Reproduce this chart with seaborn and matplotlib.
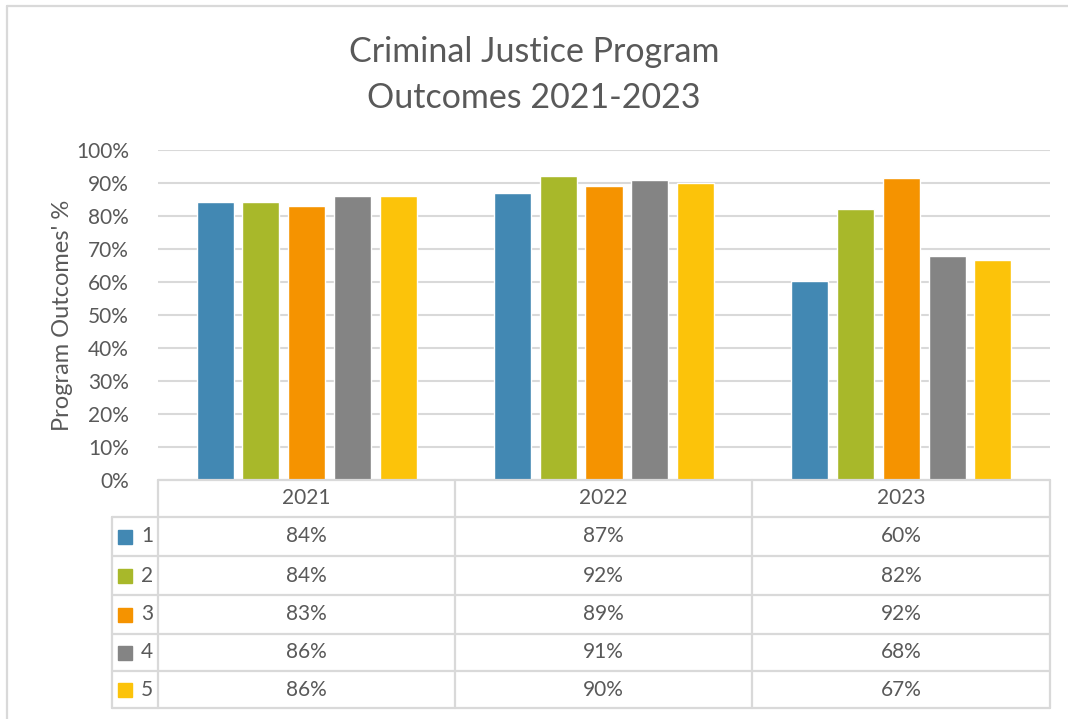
import pandas as pd
import numpy as np
import matplotlib.pyplot as plt
import seaborn as sns
from matplotlib.lines import Line2D
from matplotlib.patches import Rectangle
from matplotlib.ticker import PercentFormatter

years = ['2021', '2022', '2023']
series = ['1', '2', '3', '4', '5']
s1 = [84.2, 87.0, 60.3]
s2 = [84.2, 92.0, 82.1]
s3 = [83.0, 89.0, 91.6]
s4 = [86.0, 91.0, 67.9]
s5 = [86.0, 90.0, 66.7]
colors = ['#4288B3', '#A8B82A', '#F59300', '#848484', '#FCC30A']

sns.set_theme(style='white')
plt.rcParams['font.family'] = ['Lato', 'DejaVu Sans']
txt = '#595959'
grid = '#d9d9d9'

df = pd.DataFrame({'year': years * 5,
                   'series': np.repeat(series, 3),
                   'value': s1 + s2 + s3 + s4 + s5})

W, H = 1068, 719
fig = plt.figure(figsize=(W / 100, H / 100), dpi=100)

def fx(x):
    return x / W

def fy(y):
    return 1 - y / H

# plot area in pixel coords
x0, x1, ytop, ybot = 158, 1050, 150, 480
ax = fig.add_axes([fx(x0), fy(ybot), fx(x1) - fx(x0), fy(ytop) - fy(ybot)])
sns.barplot(data=df, x='year', y='value', hue='series', palette=colors,
            width=0.77, gap=0.19, ax=ax, legend=False, saturation=1)
ax.set_ylim(0, 100)
ax.set_xlim(-0.5, 2.5)
ax.set_yticks(range(0, 101, 10))
ax.yaxis.set_major_formatter(PercentFormatter(decimals=0))
ax.tick_params(axis='y', labelsize=15, labelcolor=txt, length=0, pad=21)
ax.set_xticks([])
ax.set_xlabel('')
ax.set_ylabel("Program Outcomes' %", fontsize=17, color=txt, labelpad=2)
ax.yaxis.grid(True, color=grid, linewidth=1.5)
ax.set_axisbelow(True)
for sp in ax.spines.values():
    sp.set_visible(False)

fig.text(0.5, fy(52), 'Criminal Justice Program', ha='center', va='center',
         fontsize=24.5, color=txt)
fig.text(0.5, fy(98), 'Outcomes 2021-2023', ha='center', va='center',
         fontsize=24.5, color=txt)

# data table
cols = [158, 455, 752, 1050]
rows = [480, 517, 556, 595, 634, 671, 708]
leg_x = 112

def hline(xa, xb, y):
    fig.add_artist(Line2D([fx(xa), fx(xb)], [fy(y), fy(y)], color=grid, lw=1.6))

def vline(x, ya, yb):
    fig.add_artist(Line2D([fx(x), fx(x)], [fy(ya), fy(yb)], color=grid, lw=1.6))

hline(cols[0], cols[-1], rows[0])
for r in rows[1:]:
    hline(leg_x, cols[-1], r)
for c in cols:
    vline(c, rows[0], rows[-1])
vline(leg_x, rows[1], rows[-1])

for j, yr in enumerate(years):
    cx = (cols[j] + cols[j + 1]) / 2
    fig.text(fx(cx), fy((rows[0] + rows[1]) / 2), yr, ha='center', va='center',
             fontsize=15, color=txt)

vals = [s1, s2, s3, s4, s5]
for i, name in enumerate(series):
    cy = (rows[i + 1] + rows[i + 2]) / 2
    fig.add_artist(Rectangle((fx(118), fy(cy + 7)), fx(14), 14 / H,
                             color=colors[i], transform=fig.transFigure))
    fig.text(fx(147), fy(cy), name, ha='center', va='center', fontsize=15, color=txt)
    for j in range(len(years)):
        cx = (cols[j] + cols[j + 1]) / 2
        fig.text(fx(cx), fy(cy), f'{round(vals[i][j])}%', ha='center', va='center',
                 fontsize=15, color=txt)

# chart frame
hline(7, W, 6)
vline(7, 6, H)

fig.savefig('out.png', dpi=100)
